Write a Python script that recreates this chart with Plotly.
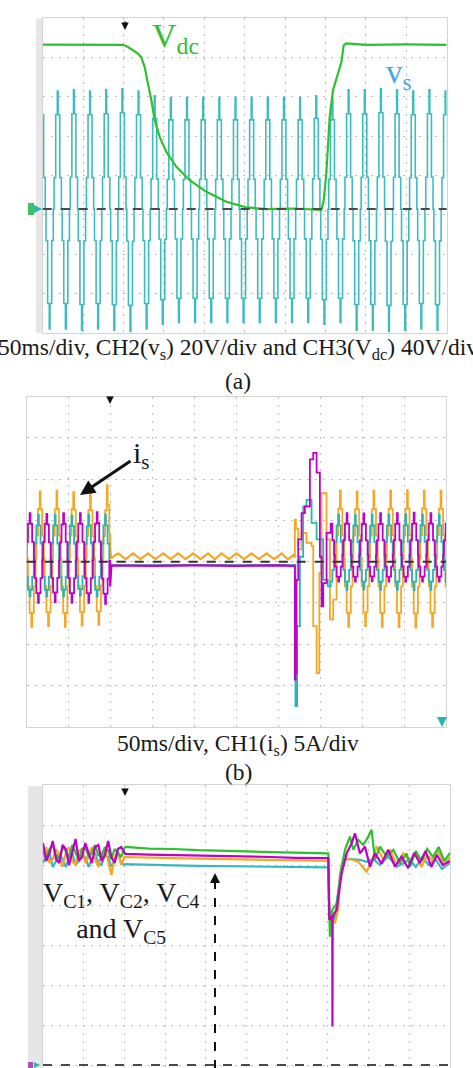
import plotly.graph_objects as go

W, H = 473, 1068

# ================= panel (a): 50 ms/div, CH2 v_s 20 V/div, CH3 V_dc 40 V/div =================
VS_V_PER_DIV = 20.0
VDC_V_PER_DIV = 40.0
A_GROUND_DIV = -0.85          # screen position of the CH2/CH3 ground marker (div)

VS_CYCLE_START_MS = -6.9      # start of first 20 ms cycle of v_s
VS_STEP_MS = 1.0
VS_CYCLE_V = [0, 16, 16, 48, 48, 60, 48, 48, 16, 16,
              0, -16, -16, -48, -48, -61, -48, -48, -16, -16]
VS_CYCLE_GAIN = [1.00, 1.00, 1.01, 1.00, 1.01, 1.02, 1.00, 0.96, 0.945, 0.945,
                 0.945, 0.945, 0.945, 0.945, 0.945, 0.945, 0.945, 0.96, 0.945, 1.01,
                 1.01, 1.02, 1.01, 1.00, 1.01, 1.00]

VDC_T_MS = [0, 99.4, 105.6, 111.8, 118.0, 122.0, 126.2, 130.3, 134.5, 138.6, 144.8,
            153.0, 165.4, 181.9, 202.6, 227.3, 252.0, 276.8, 310.0, 344.9, 347.8,
            351.0, 355.2, 359.3, 365.5, 369.7, 372.5, 375.8, 400.6, 450.0, 500]
VDC_V = [167.2, 167.0, 164.8, 161.4, 158.0, 154.6, 144.5, 127.6, 110.7, 90.4, 73.4,
         58.2, 42.9, 29.4, 17.6, 7.4, 1.7, 0.0, 0.6, -0.7, 9.1,
         36.2, 93.7, 120.8, 139.4, 149.5, 166.5, 168.5, 167.0, 167.4, 167.0]

# ================= panel (b): 50 ms/div, CH1 i_s 5 A/div =================
IS_A_PER_DIV = 5.0
IS_STEP_MS = 1.0

ORANGE_CYCLE_A = [8.6, 6.4, 6.4, 3.2, 3.2, 0.4, -3.0, -3.0, -6.2, -6.2,
                  -7.9, -6.2, -6.2, -3.0, -3.0, 0.4, 3.2, 3.2, 6.4, 6.4]
MAGENTA_CYCLE_PRE_A = [5.9, 4.6, 4.6, 2.4, 2.4, 0.2, -2.0, -2.0, -3.8, -3.8,
                       -5.0, -3.8, -3.8, -2.0, -2.0, 0.2, 2.4, 2.4, 4.6, 4.6]
CYAN_CYCLE_PRE_A = [5.7, 4.4, 4.4, 2.2, 2.2, 0.0, -1.8, -1.8, -3.4, -3.4,
                    -4.2, -3.4, -3.4, -1.8, -1.8, 0.0, 2.2, 2.2, 4.4, 4.4]
MAGENTA_CYCLE_POST_A = [5.9, 4.6, 4.6, 2.6, 2.6, 0.8, -0.6, -0.6, -1.8, -1.8,
                        -2.4, -1.8, -1.8, -0.6, -0.6, 0.8, 2.6, 2.6, 4.6, 4.6]
CYAN_CYCLE_POST_A = [5.7, 4.4, 4.4, 2.4, 2.4, 0.6, -1.0, -1.0, -2.4, -2.4,
                     -3.4, -2.4, -2.4, -1.0, -1.0, 0.6, 2.4, 2.4, 4.4, 4.4]

ORANGE_PRE_START_MS, ORANGE_PRE_GAIN = -4.5, [1.0, 0.99, 1.0, 0.98, 0.97, 1.08]
MAGENTA_PRE_START_MS, MAGENTA_PRE_GAIN = -16.5, [1.0, 1.0, 0.98, 1.0, 1.0, 1.02]
CYAN_PRE_START_MS, CYAN_PRE_GAIN = -6.5, [1.0, 1.0, 1.0, 0.98, 1.0, 1.0]
FAULT_START_MS = 99.0

ORANGE_FAULT_T = [99.5, 100.5, 109, 118, 126.8, 135.7, 144.7, 153.6, 162.6, 171.5, 180.5,
                  189.4, 198.4, 207.3, 216.3, 224.3, 232.3, 241.2, 250.2, 259.1, 268.1,
                  277, 286, 295, 303.9, 311.5, 318, 319.8]
ORANGE_FAULT_A = [2.0, 0.4, 1.0, 0.3, 1.0, 0.3, 1.0, 0.3, 1.0, 0.3, 1.0,
                  0.3, 1.0, 0.3, 1.0, 0.3, 1.0, 0.3, 1.0, 0.3, 1.0,
                  0.3, 1.0, 0.3, 1.0, 0.3, 0.8, 0.5]
MAGENTA_FAULT_T = [99.5, 101, 150, 200, 250, 300, 319.0]
MAGENTA_FAULT_A = [-3.0, -0.45, -0.5, -0.45, -0.5, -0.45, -0.5]
CYAN_FAULT_T = [99.5, 101, 150, 200, 250, 300, 319.0]
CYAN_FAULT_A = [-1.5, -0.4, -0.45, -0.4, -0.45, -0.4, -0.45]

ORANGE_TRANS_T = [319.8, 321.0, 323.8, 327.8, 333.7, 339.7, 341.7, 345.7, 348.9,
                  351.6, 357.6, 361.6, 365.5]
ORANGE_TRANS_A = [5.1, 4.0, 1.5, 3.5, 2.3, 1.9, -7.8, -13.5, -1.4,
                  8.3, 2.7, -7.0, -4.6]
MAGENTA_TRANS_T = [319.8, 320.6, 321.8, 323.8, 327.8, 331.7, 337.7, 341.7, 345.7,
                   349.6, 351.6, 353.6, 357.6]
MAGENTA_TRANS_A = [-14.3, -13.5, -2.2, 2.7, 5.9, 6.7, 12.4, 13.2, 10.8,
                   0.6, -5.4, -2.6, 3.5]
CYAN_TRANS_T = [319.8, 320.5, 322.5, 325.8, 329.7, 333.7, 339.7, 345.7, 353.6, 359.0]
CYAN_TRANS_A = [-0.4, -17.5, -7.8, 0.6, 6.7, 7.5, 4.7, 2.7, -2.2, -3.0]

ORANGE_POST_START_MS, ORANGE_POST_FROM_MS = 353.5, 369.0
MAGENTA_POST_START_MS, MAGENTA_POST_FROM_MS = 361.5, 362.0
CYAN_POST_START_MS, CYAN_POST_FROM_MS = 351.5, 362.0
POST_GAIN = [1.0, 1.0, 0.99, 1.0, 1.0, 1.01, 1.0, 1.0, 1.0]

# ================= panel (c): capacitor voltages (screen divisions) =================
VC_PRE_T = list(range(0, 101, 4))
VC_GREEN_PRE = [5.35, 5.2, 5.4, 5.5, 5.25, 5.15, 5.45, 5.35, 5.2, 5.5, 5.3, 5.15, 5.4,
                5.45, 5.2, 5.3, 5.5, 5.25, 5.2, 5.45, 5.35, 5.15, 5.4, 5.3, 5.2, 5.42]
VC_MAGENTA_PRE = [5.55, 5.1, 5.3, 5.6, 5.15, 5.05, 5.5, 5.4, 5.0, 5.35, 5.65, 5.1, 5.2,
                  5.55, 5.3, 5.05, 5.45, 5.5, 5.1, 5.25, 5.6, 5.2, 5.05, 5.4, 5.45, 5.3]
VC_ORANGE_PRE = [5.2, 5.45, 5.05, 5.15, 5.4, 5.25, 4.95, 5.3, 5.45, 5.1, 5.0, 5.35, 5.4,
                 5.05, 5.2, 5.45, 5.15, 4.95, 5.3, 5.4, 5.1, 4.75, 5.2, 5.35, 5.0, 5.2]
VC_CYAN_PRE = [5.05, 5.25, 5.3, 4.95, 5.1, 5.3, 5.15, 4.95, 5.2, 5.3, 5.0, 5.1, 5.25,
               5.2, 4.95, 5.15, 5.3, 5.05, 5.0, 5.25, 5.2, 4.95, 5.1, 5.3, 5.05, 5.0]

VC_FAULT_T = [101, 130, 160, 190, 220, 250, 280, 310, 340, 350.5]
VC_GREEN_FAULT = [5.45, 5.41, 5.40, 5.37, 5.36, 5.34, 5.32, 5.31, 5.29, 5.29]
VC_MAGENTA_FAULT = [5.28, 5.26, 5.25, 5.23, 5.22, 5.21, 5.2, 5.18, 5.17, 5.17]
VC_ORANGE_FAULT = [5.2, 5.18, 5.17, 5.16, 5.15, 5.14, 5.12, 5.11, 5.1, 5.1]
VC_CYAN_FAULT = [5.02, 5.0, 4.99, 4.98, 4.97, 4.96, 4.95, 4.95, 4.94, 4.94]

VC_GREEN_POST_T = [351.7, 352.5, 355.4, 360.8, 366.9, 371, 377.1, 381.2, 387.3, 393.4,
                   399.6, 403.7, 407.8, 414, 422.2, 430.4, 438.6, 446.8, 450.8, 458,
                   465, 472, 479, 486, 493, 500]
VC_GREEN_POST = [3.88, 3.21, 3.88, 4.04, 4.96, 5.38, 5.71, 5.38, 5.63, 5.5,
                 5.71, 5.88, 5.13, 5.46, 5.21, 5.38, 5.04, 5.29, 4.96, 5.35,
                 5.1, 5.4, 5.2, 5.45, 5.1, 5.3]
VC_MAGENTA_POST_T = [351.7, 354, 355.4, 355.6, 355.8, 358, 360.8, 366.9, 373, 379.1,
                     383.3, 389.4, 395.5, 401.7, 407.8, 415.9, 424.1, 432.3, 440.5,
                     448.7, 456, 463, 470, 477, 484, 491, 500]
VC_MAGENTA_POST = [3.63, 3.7, 3.67, 0.96, 3.67, 3.8, 3.88, 4.79, 5.29, 5.54,
                   5.79, 5.29, 5.46, 4.96, 5.29, 5.04, 5.38, 4.96, 5.21,
                   4.92, 5.3, 5.05, 5.35, 4.95, 5.25, 5.0, 5.1]
VC_ORANGE_POST_T = [351.7, 358.6, 362.7, 364.9, 369, 377.1, 387.3, 397.5, 403.6, 410,
                    418.2, 426.3, 434.5, 442.7, 450.8, 458, 465, 472, 479, 486, 493, 500]
VC_ORANGE_POST = [3.79, 3.54, 3.9, 4.79, 5.13, 5.15, 5.08, 4.83, 5.08, 5.46,
                  5.13, 5.38, 5.0, 5.29, 5.1, 5.3, 4.95, 5.25, 5.1, 5.35, 4.98, 5.2]
VC_CYAN_POST_T = [351.7, 358.6, 364.9, 369, 377.1, 389.4, 397.5, 405.7, 413.9, 424.1,
                  434.5, 442.7, 450, 458, 466, 474, 482, 490, 500]
VC_CYAN_POST = [3.88, 3.63, 4.71, 5.13, 5.15, 5.13, 5.08, 5.15, 5.0, 5.21,
                4.96, 5.04, 5.15, 4.95, 5.2, 5.0, 5.15, 4.9, 5.05]

# ================= colours =================
C_GREEN = "#2fbf2f"
C_CYAN_A = "#3cbdbd"
C_CYAN = "#2ab5ad"
C_ORANGE = "#f5a623"
C_MAGENTA = "#c000c8"
C_CYAN_C = "#35b8c0"
C_VS_LABEL = "#45a8de"
SERIF = "Liberation Serif, Times New Roman, serif"


def tile(t0, pattern, gains, t_from, t_to, step):
    ts, vs = [], []
    n = len(pattern)
    for c, g in enumerate(gains):
        for k, v in enumerate(pattern):
            t = t0 + (c * n + k) * step
            if t_from <= t < t_to:
                ts.append(t)
                vs.append(v * g)
    return ts, vs


def PX(x):
    return x / W


def PY(y):
    return 1 - y / H


fig = go.Figure()

# ---- panel (a)
vs_t, vs_v = tile(VS_CYCLE_START_MS, VS_CYCLE_V, VS_CYCLE_GAIN, -20, 520, VS_STEP_MS)
fig.add_trace(go.Scatter(x=vs_t, y=[v / VS_V_PER_DIV + A_GROUND_DIV for v in vs_v],
                         mode="lines", line=dict(color=C_CYAN_A, width=1.6, shape="hv"),
                         xaxis="x", yaxis="y"))
fig.add_trace(go.Scatter(x=VDC_T_MS, y=[v / VDC_V_PER_DIV + A_GROUND_DIV for v in VDC_V],
                         mode="lines", line=dict(color=C_GREEN, width=2.2),
                         xaxis="x", yaxis="y"))


# ---- panel (b)
def add_current(pre, fault, trans, post, color):
    # stepped segment before the fault
    fig.add_trace(go.Scatter(x=pre[0], y=[v / IS_A_PER_DIV for v in pre[1]], mode="lines",
                             line=dict(color=color, width=1.8, shape="hv"),
                             xaxis="x2", yaxis="y2"))
    # smooth segment during the fault (joined to the last stepped sample)
    ft = [pre[0][-1] + IS_STEP_MS] + fault[0]
    fa = [pre[1][-1]] + fault[1]
    fig.add_trace(go.Scatter(x=ft, y=[v / IS_A_PER_DIV for v in fa], mode="lines",
                             line=dict(color=color, width=2.2),
                             xaxis="x2", yaxis="y2"))
    # stepped segment after the fault
    rt = [fault[0][-1]] + trans[0] + post[0]
    ra = [fault[1][-1]] + trans[1] + post[1]
    fig.add_trace(go.Scatter(x=rt, y=[v / IS_A_PER_DIV for v in ra], mode="lines",
                             line=dict(color=color, width=1.8, shape="hv"),
                             xaxis="x2", yaxis="y2"))


add_current(tile(ORANGE_PRE_START_MS, ORANGE_CYCLE_A, ORANGE_PRE_GAIN, -20, FAULT_START_MS, IS_STEP_MS),
            (ORANGE_FAULT_T, ORANGE_FAULT_A), (ORANGE_TRANS_T, ORANGE_TRANS_A),
            tile(ORANGE_POST_START_MS, ORANGE_CYCLE_A, POST_GAIN, ORANGE_POST_FROM_MS, 520, IS_STEP_MS),
            C_ORANGE)
add_current(tile(CYAN_PRE_START_MS, CYAN_CYCLE_PRE_A, CYAN_PRE_GAIN, -20, FAULT_START_MS, IS_STEP_MS),
            (CYAN_FAULT_T, CYAN_FAULT_A), (CYAN_TRANS_T, CYAN_TRANS_A),
            tile(CYAN_POST_START_MS, CYAN_CYCLE_POST_A, POST_GAIN, CYAN_POST_FROM_MS, 520, IS_STEP_MS),
            C_CYAN)
add_current(tile(MAGENTA_PRE_START_MS, MAGENTA_CYCLE_PRE_A, MAGENTA_PRE_GAIN, -20, FAULT_START_MS, IS_STEP_MS),
            (MAGENTA_FAULT_T, MAGENTA_FAULT_A), (MAGENTA_TRANS_T, MAGENTA_TRANS_A),
            tile(MAGENTA_POST_START_MS, MAGENTA_CYCLE_POST_A, POST_GAIN, MAGENTA_POST_FROM_MS, 520, IS_STEP_MS),
            C_MAGENTA)

# ---- panel (c)
for pre, fault, post_t, post, col in [
    (VC_CYAN_PRE, VC_CYAN_FAULT, VC_CYAN_POST_T, VC_CYAN_POST, C_CYAN_C),
    (VC_ORANGE_PRE, VC_ORANGE_FAULT, VC_ORANGE_POST_T, VC_ORANGE_POST, C_ORANGE),
    (VC_GREEN_PRE, VC_GREEN_FAULT, VC_GREEN_POST_T, VC_GREEN_POST, C_GREEN),
    (VC_MAGENTA_PRE, VC_MAGENTA_FAULT, VC_MAGENTA_POST_T, VC_MAGENTA_POST, C_MAGENTA),
]:
    fig.add_trace(go.Scatter(x=VC_PRE_T + VC_FAULT_T + post_t, y=pre + fault + post,
                             mode="lines", line=dict(color=col, width=2.2),
                             xaxis="x3", yaxis="y3"))

# ---- axes
grid = dict(showgrid=True, gridcolor="#bcbcbc", griddash="2px,6px", gridwidth=1,
            zeroline=False, showticklabels=False, showline=True, linecolor="#d4d4d4",
            linewidth=1, mirror=True, ticks="", fixedrange=True)

xa = dict(range=[0, 500], tick0=0, dtick=50, **grid)
fig.update_layout(
    width=W, height=H, margin=dict(l=0, r=0, t=0, b=0),
    paper_bgcolor="white", plot_bgcolor="white", showlegend=False,
    xaxis=dict(domain=[PX(42.7), PX(446.7)], anchor="y", **xa),
    yaxis=dict(domain=[PY(333), PY(18.3)], anchor="x", range=[-4, 4], tick0=0, dtick=1, **grid),
    xaxis2=dict(domain=[PX(26.7), PX(446)], anchor="y2", **xa),
    yaxis2=dict(domain=[PY(726.7), PY(396.7)], anchor="x2", range=[-4, 4], tick0=0, dtick=1, **grid),
    xaxis3=dict(domain=[PX(43), PX(450)], anchor="y3", **xa),
    yaxis3=dict(domain=[0, PY(785)], anchor="x3", range=[-0.075, 7.0], tick0=0, dtick=1, **grid),
)

shapes = [
    dict(type="rect", xref="paper", yref="paper", x0=PX(36), x1=PX(42.7), y0=PY(333), y1=PY(18.3),
         fillcolor="#e6e6e6", line=dict(width=0), layer="below"),
    dict(type="rect", xref="paper", yref="paper", x0=PX(28), x1=PX(43), y0=0, y1=PY(786),
         fillcolor="#e6e6e6", line=dict(width=0), layer="below"),
    dict(type="line", xref="x domain", yref="y", x0=0, x1=1, y0=A_GROUND_DIV, y1=A_GROUND_DIV,
         line=dict(color="#4a4a4a", width=2, dash="dash")),
    dict(type="line", xref="x2 domain", yref="y2", x0=0, x1=1, y0=0, y1=0,
         line=dict(color="#333333", width=2, dash="dash")),
    dict(type="line", xref="x3 domain", yref="y3", x0=0, x1=1, y0=0, y1=0,
         line=dict(color="#4a4a4a", width=2, dash="dash")),
    dict(type="line", xref="paper", yref="paper", x0=PX(215), x1=PX(215), y0=PY(880), y1=0,
         line=dict(color="#111111", width=2, dash="dash")),
    # channel marker boxes
    dict(type="rect", xref="paper", yref="paper", x0=PX(28), x1=PX(34), y0=PY(215), y1=PY(203),
         fillcolor="#3cc35a", line=dict(width=0)),
    dict(type="rect", xref="paper", yref="paper", x0=PX(28), x1=PX(33), y0=PY(1068), y1=PY(1062),
         fillcolor="#b04cb8", line=dict(width=0)),
]
fig.update_layout(shapes=shapes)

ann = []


def arrow(xt, yt, dx, dy, color="#111111", width=1.5, size=1.0, head=2):
    ann.append(dict(xref="paper", yref="paper", x=PX(xt), y=PY(yt), ax=dx, ay=dy, text="",
                    showarrow=True, arrowhead=head, arrowsize=size, arrowwidth=width,
                    arrowcolor=color))


def label(x, y, text, size, color="#1a1a1a", xanchor="center", align="center"):
    ann.append(dict(xref="paper", yref="paper", x=PX(x), y=PY(y), text=text, showarrow=False,
                    xanchor=xanchor, yanchor="middle", align=align,
                    font=dict(family=SERIF, size=size, color=color)))


# trigger markers
arrow(125, 30, 0, -10)
arrow(110, 404, 0, -9)
arrow(125, 796, 0, -9)
# channel markers
arrow(442, 727, 0, -9, color=C_CYAN, width=2)
arrow(42, 209, -6, 0, color=C_CYAN, width=2, size=0.8)
arrow(40, 1065, -6, 0, color=C_CYAN, width=1.5, size=0.8)
# i_s pointer
arrow(80, 495, 52, -35, width=3, size=1.0, head=2)
# dashed pointer head in (c)
arrow(215, 873, 0, 14, width=2, size=1.0, head=2)

label(150, 38, "V<sub>dc</sub>", 34, color=C_GREEN, xanchor="left")
label(384, 74, "v<sub>s</sub>", 33, color=C_VS_LABEL, xanchor="left")
label(238, 349, "50ms/div, CH2(v<sub>s</sub>) 20V/div and CH3(V<sub>dc</sub>) 40V/div", 23.5)
label(238, 381, "(a)", 23.5)
label(131, 455, "i<sub>s</sub>", 30, xanchor="left")
label(238, 745, "50ms/div, CH1(i<sub>s</sub>) 5A/div", 23.5)
label(238, 772, "(b)", 23.5)
label(121, 912, "V<sub>C1</sub>, V<sub>C2</sub>, V<sub>C4</sub><br>and V<sub>C5</sub>", 28)

fig.update_layout(annotations=ann)

fig.write_html("out.html")
